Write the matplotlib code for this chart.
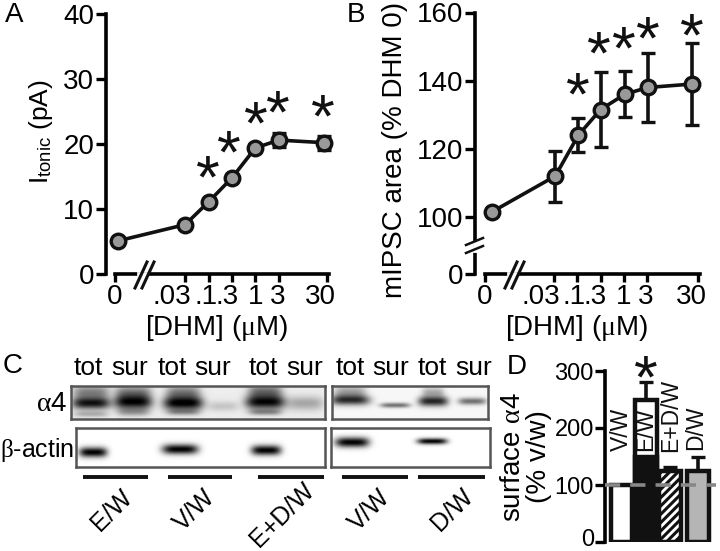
import numpy as np
import matplotlib
matplotlib.use("Agg")
import matplotlib.pyplot as plt
from matplotlib.lines import Line2D
from matplotlib.transforms import ScaledTranslation

W, H = 720, 551

plt.rcParams['font.family'] = ['Liberation Sans', 'DejaVu Sans']
plt.rcParams['mathtext.fontset'] = 'custom'
plt.rcParams['mathtext.rm'] = 'Liberation Sans'
plt.rcParams['mathtext.it'] = 'Liberation Serif'
plt.rcParams['hatch.linewidth'] = 2.2

# Panel A
dose_labels = ['0', '.03', '.1', '.3', '1', '3', '30']
a_ticks = [0, 3, 4, 5, 6, 7, 9.05]
a_x = [0.13, 3, 4, 5, 6, 7, 8.95]
a_y = [5.1, 7.6, 11.1, 14.8, 19.4, 20.6, 20.2]
a_err = [0.3, 0.4, 0.4, 0.4, 0.6, 1.1, 1.1]
a_star_x = [3.95, 4.85, 6.0, 6.95, 8.9]
a_star_y = [14.2, 18.0, 22.5, 24.2, 23.5]

# Panel B
b_ticks = [0, 3, 4, 5, 6, 7, 9.2]
b_x = [0.3, 3.04, 4.04, 5, 6.05, 7.04, 8.95]
b_y = [101.5, 112, 124, 131.5, 136, 138, 139]
b_err = [0.8, 7.5, 5, 11, 6.7, 10, 12]
b_star_x = [4.0, 4.95, 6.0, 7.05, 8.95]
b_star_y = [134.6, 146.6, 148, 151, 152]

# Panel C
lane_tops = ['tot', 'sur', 'tot', 'sur', 'tot', 'sur', 'tot', 'sur', 'tot', 'sur']
lane_top_x = [88, 130, 172, 213, 263, 305, 350, 391, 432, 474]
groups = ['E/W', 'V/W', 'E+D/W', 'V/W', 'D/W']
group_x0 = [83, 168, 258, 342, 418]
group_x1 = [148, 232, 324, 408, 485]
group_lab_x = [112, 195, 282, 370, 452]
group_lab_y = [510, 510, 515, 510, 510]

# bands: centre x, centre y, half width, half height, darkness
a4_left_cx = [91, 91, 91, 133, 133, 133, 183, 183, 183, 223, 265, 265, 265, 305]
a4_left_cy = [403, 392, 414, 402, 392, 412, 403, 392, 412, 406, 402, 391, 412, 403]
a4_left_w = [19, 18, 17, 19, 18, 16, 20, 17, 16, 15, 20, 17, 16, 18]
a4_left_h = [6, 7, 3, 7, 7, 4, 7, 7, 3, 5, 7, 7, 3, 7]
a4_left_d = [.9, .45, .25, .95, .45, .3, 1.0, .45, .3, .17, .95, .5, .35, .3]
a4_right_cx = [350, 350, 395, 433, 433, 472]
a4_right_cy = [400, 392, 405, 401, 392, 401]
a4_right_w = [20, 16, 15, 15, 11, 14]
a4_right_h = [5, 7, 2.5, 5, 5, 3.5]
a4_right_d = [.75, .35, .55, .85, .3, .55]
actin_left_cx = [93, 180, 266]
actin_left_cy = [452, 449, 450]
actin_left_w = [14, 18, 15]
actin_left_h = [5, 5, 5]
actin_left_d = [1.0, 1.0, 1.0]
actin_right_cx = [352, 432]
actin_right_cy = [442, 441]
actin_right_w = [17, 15]
actin_right_h = [5, 3]
actin_right_d = [1.0, 1.0]

# Panel D
d_x = [0, 1, 2, 3.15]
d_y = [100, 250, 125, 125]
d_top = [None, 280, 132, 150]
d_black = 150
d_labels = ['V/W', 'E/W', 'E+D/W', 'D/W']
d_label_x = [0, 1, 2, 3.03]
d_label_y = [198, 198, 222, 200]

fig = plt.figure(figsize=(W / 100, H / 100), dpi=100)


def px_axes(x0, ytop, x1, ybot):
    return fig.add_axes([x0 / W, 1 - ybot / H, (x1 - x0) / W, (ybot - ytop) / H])


def ftext(x, y, s, **kw):
    return fig.text(x / W, 1 - y / H, s, **kw)


def fline(xs, ys, **kw):
    fig.add_artist(Line2D([x / W for x in xs], [1 - y / H for y in ys], **kw))


def dose_axes(ax, ticks, labels, shifts, xstart):
    for s in ['top', 'right']:
        ax.spines[s].set_visible(False)
    ax.spines['left'].set_linewidth(2.6)
    ax.spines['bottom'].set_linewidth(2.6)
    ax.spines['bottom'].set_bounds(xstart, ticks[-1] + 0.1)
    ax.set_xticks(ticks)
    ax.set_xticklabels(labels)
    ax.tick_params(axis='x', width=2.4, length=5.5, labelsize=20, pad=2)
    ax.tick_params(axis='y', width=2.4, length=7.5, labelsize=20, pad=1)
    for lab, dx in zip(ax.get_xticklabels(), shifts):
        lab.set_transform(lab.get_transform() + ScaledTranslation(dx / 100, 0, fig.dpi_scale_trans))
    ax.patch.set_alpha(0)


def curve(ax, x, y, err, star_x, star_y):
    ax.errorbar(x, y, yerr=err, color='#111111', lw=2.6, elinewidth=2.6, capsize=5, capthick=2.4,
                marker='o', ms=10.5, mfc='#999999', mec='#111111', mew=2.4, clip_on=False, zorder=3)
    for sx, sy in zip(star_x, star_y):
        ax.text(sx, sy, '*', fontsize=44, ha='center', va='center', color='#111111')


# A
ax_a = px_axes(106, 14, 336, 274)
ax_a.set_xlim((106 - 115) / 23.4, (336 - 115) / 23.4)
ax_a.set_ylim(0, 40)
ax_a.set_yticks([0, 10, 20, 30, 40])
dose_axes(ax_a, a_ticks, dose_labels, [0, -13, -3, -5, 0, -1, -6], 0)
curve(ax_a, a_x, a_y, a_err, a_star_x, a_star_y)
ftext(14, 15, 'A', fontsize=20, ha='center', va='center')
ftext(217, 328, r'[DHM] ($\mu$M)', fontsize=20, ha='center', va='center')
ftext(41, 132, r'I$_{\mathrm{tonic}}$ (pA)', fontsize=19, rotation=90, ha='center', va='center')

# B, y axis broken between 0 and 100


def b_fwd(v):
    return np.interp(v, [0, 100, 160], [0, 57, 261.5])


def b_inv(v):
    return np.interp(v, [0, 57, 261.5], [0, 100, 160])


ax_b = px_axes(475, 12.5, 706, 274)
ax_b.set_xlim((475 - 485) / 23.1, (706 - 485) / 23.1)
ax_b.set_yscale('function', functions=(b_fwd, b_inv))
ax_b.set_ylim(0, 160)
ax_b.set_yticks([0, 100, 120, 140, 160])
ax_b.set_yticklabels(['0', '100', '120', '140', '160'])
ax_b.minorticks_off()
dose_axes(ax_b, b_ticks, dose_labels, [0, -13, -3, -5, 0, -1, -6], 0)
curve(ax_b, b_x, b_y, b_err, b_star_x, b_star_y)
ftext(356, 15, 'B', fontsize=20, ha='center', va='center')
ftext(577, 328, r'[DHM] ($\mu$M)', fontsize=20, ha='center', va='center')
ftext(395, 150, 'mIPSC area (% DHM 0)', fontsize=20, rotation=90, ha='center', va='center')

# axis break marks
fline([475, 475], [244, 250], color='white', lw=3.5, zorder=5)
fline([466, 483], [245, 238], color='#111111', lw=1.8, zorder=6)
fline([466, 483], [253, 246], color='#111111', lw=1.8, zorder=6)
for x0 in (133, 140, 503, 510):
    fline([x0 + 2, x0 + 14], [288, 262], color='#111111', lw=2.2, zorder=6)
for x0 in (140, 510):
    fline([x0 - 1, x0 + 5], [274, 274], color='white', lw=3.4, zorder=5)


# C
def blot(x0, ytop, x1, ybot, cx, cy, bw, bh, dark, base):
    xx, yy = np.meshgrid(np.arange(x0, x1, 0.5), np.arange(ytop, ybot, 0.5))
    d = np.zeros_like(xx)
    for c, y, w, h, k in zip(cx, cy, bw, bh, dark):
        d += k * np.exp(-((xx - c) / w) ** 4 - ((yy - y) / h) ** 2)
    ax = px_axes(x0, ytop, x1, ybot)
    ax.imshow(base - np.clip(d, 0, 1) * base, cmap='gray', vmin=0, vmax=1, aspect='auto',
              interpolation='bilinear')
    ax.set_xticks([])
    ax.set_yticks([])
    for s in ax.spines.values():
        s.set_color('#555555')
        s.set_linewidth(1.8)


blot(71, 386, 325, 419, a4_left_cx, a4_left_cy, a4_left_w, a4_left_h, a4_left_d, 0.93)
blot(332, 386, 488, 419, a4_right_cx, a4_right_cy, a4_right_w, a4_right_h, a4_right_d, 0.97)
blot(76, 428, 325, 467, actin_left_cx, actin_left_cy, actin_left_w, actin_left_h, actin_left_d, 1.0)
blot(331, 428, 490, 467, actin_right_cx, actin_right_cy, actin_right_w, actin_right_h, actin_right_d, 1.0)

ftext(13, 366, 'C', fontsize=20, ha='center', va='center')
for x, s in zip(lane_top_x, lane_tops):
    ftext(x, 368, s, fontsize=19, ha='center', va='center')
ftext(67, 404, r'$\alpha$4', fontsize=20, ha='right', va='center')
ftext(74, 450, r'$\beta$-actin', fontsize=18, ha='right', va='center')
for x0, x1, lx, ly, s in zip(group_x0, group_x1, group_lab_x, group_lab_y, groups):
    fline([x0, x1], [477, 477], color='#111111', lw=2.8, solid_capstyle='butt')
    ftext(lx, ly, s, fontsize=18, rotation=45, ha='center', va='center', rotation_mode='anchor')

# D
ax_d = px_axes(605, 371, 716, 542)
ax_d.set_xlim((605 - 621.5) / 24.4, (716 - 621.5) / 24.4)
ax_d.set_ylim(0, 300)
ax_d.patch.set_alpha(0)
for s in ['top', 'right', 'bottom']:
    ax_d.spines[s].set_visible(False)
ax_d.spines['left'].set_linewidth(2.6)
ax_d.set_xticks([])
ax_d.set_yticks([0, 100, 200, 300])
ax_d.tick_params(axis='y', width=2.4, length=7, labelsize=17, pad=1)
zero_lab = ax_d.get_yticklabels()[0]
zero_lab.set_transform(zero_lab.get_transform() + ScaledTranslation(0, 5 / 100, fig.dpi_scale_trans))

fills = ['white', 'white', 'white', '#b5b5b5']
hatches = [None, None, '////', None]
for x, y, f, h in zip(d_x, d_y, fills, hatches):
    ax_d.bar(x, y, width=0.9, facecolor=f, edgecolor='#111111', lw=3.2, hatch=h, zorder=2)
ax_d.bar(d_x[1], d_black, width=0.9, facecolor='#111111', edgecolor='#111111', lw=3.2, zorder=2)
for x, y, t in zip(d_x, d_y, d_top):
    if t is not None:
        ax_d.errorbar(x, y, yerr=[[0], [t - y]], color='#111111', elinewidth=2.6, capsize=5,
                      capthick=2.4, zorder=1)
for x, y, s in zip(d_label_x, d_label_y, d_labels):
    ax_d.text(x, y, s, fontsize=16.5, rotation=90, ha='center', va='center', color='#111111', zorder=4)
ax_d.text(d_x[1], 280, '*', fontsize=44, ha='center', va='center', color='#111111', clip_on=False)
ax_d.axhline(100, color='#888888', lw=2.6, dashes=(4.2, 2.8), zorder=5, clip_on=False)
ftext(517, 367, 'D', fontsize=20, ha='center', va='center')
ftext(526, 457, 'surface $\\alpha$4\n(% v/w)', fontsize=20, rotation=90, ha='center', va='center',
      linespacing=0.95)

fig.savefig('out.png', dpi=100)
